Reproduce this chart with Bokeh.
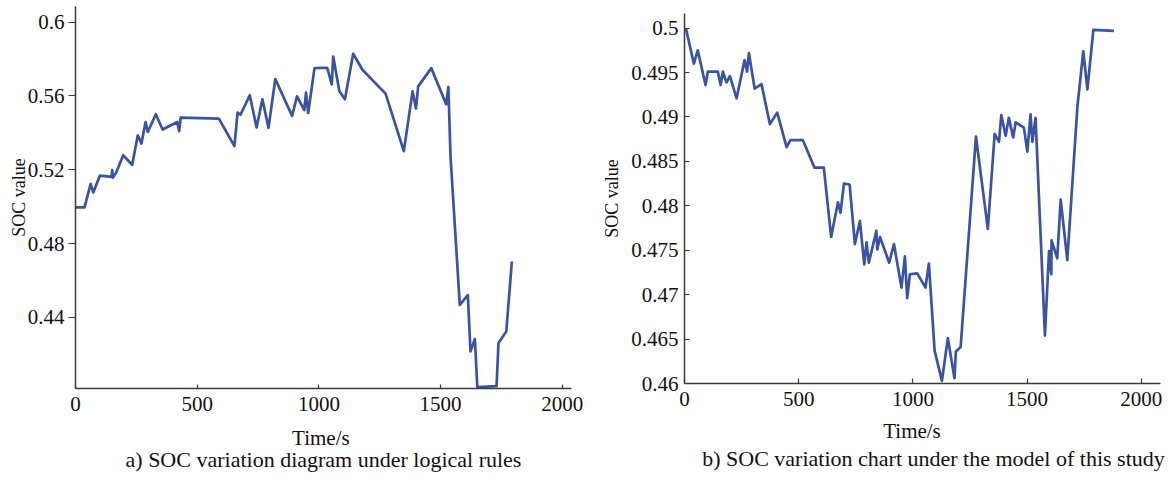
from bokeh.plotting import figure
from bokeh.layouts import row, column
from bokeh.models import Range1d, FixedTicker, LinearAxis
from bokeh.embed import file_html
from bokeh.resources import INLINE

# ---------------- data ----------------
left_time = [2, 37, 62, 73, 100, 148, 151, 153, 167, 196, 233, 256, 271, 288, 297,
             330, 358, 418, 426, 432, 589, 653, 666, 678, 716, 744, 768, 793, 821, 890,
             910, 940, 947, 956, 982, 1034, 1053, 1059, 1084, 1107, 1141, 1179, 1274, 1349, 1385,
             1399, 1408, 1462, 1523, 1532, 1541, 1579, 1612, 1623, 1641, 1651, 1730, 1738, 1770, 1793]
left_soc = [0.4996, 0.4996, 0.5123, 0.5077, 0.5168, 0.5162, 0.5198, 0.5157, 0.5184, 0.5279,
            0.5227, 0.5387, 0.5342, 0.5459, 0.5405, 0.5501, 0.5418, 0.5459, 0.5409, 0.5483,
            0.5477, 0.5328, 0.5510, 0.5499, 0.5604, 0.5429, 0.5582, 0.5427, 0.5692, 0.5492,
            0.5598, 0.5523, 0.5618, 0.5508, 0.5751, 0.5753, 0.5663, 0.5814, 0.5627, 0.5582,
            0.5829, 0.5742, 0.5613, 0.5301, 0.5625, 0.5532, 0.5652, 0.5751, 0.5555, 0.5649,
            0.5270, 0.4468, 0.4521, 0.4216, 0.4283, 0.4022, 0.4027, 0.4261, 0.4323, 0.4703]

right_time = [6, 41, 58, 92, 102, 146, 158, 168, 184, 199, 228, 263, 274, 282, 307,
              337, 374, 406, 447, 464, 518, 569, 610, 642, 672, 683, 698, 723, 746, 768,
              787, 797, 807, 840, 844, 856, 896, 917, 950, 965, 975, 987, 1019, 1055, 1070,
              1095, 1127, 1153, 1182, 1188, 1209, 1276, 1328, 1358, 1377, 1387, 1406, 1420, 1439, 1450,
              1486, 1501, 1515, 1523, 1537, 1578, 1596, 1606, 1607, 1632, 1647, 1676, 1720, 1746, 1764,
              1790, 1880]
right_soc = [0.5000, 0.4960, 0.4975, 0.4936, 0.4951, 0.4951, 0.4936, 0.4951, 0.4939, 0.4946,
             0.4921, 0.4964, 0.4951, 0.4972, 0.4932, 0.4937, 0.4892, 0.4905, 0.4866, 0.4874,
             0.4874, 0.4843, 0.4843, 0.4765, 0.4804, 0.4792, 0.4825, 0.4824, 0.4757, 0.4783,
             0.4734, 0.4759, 0.4736, 0.4772, 0.4751, 0.4765, 0.4736, 0.4757, 0.4708, 0.4743,
             0.4696, 0.4723, 0.4724, 0.4708, 0.4735, 0.4637, 0.4603, 0.4651, 0.4606, 0.4636,
             0.4641, 0.4878, 0.4774, 0.4881, 0.4872, 0.4902, 0.4879, 0.4899, 0.4877, 0.4894,
             0.4888, 0.4861, 0.4903, 0.4872, 0.4899, 0.4654, 0.4749, 0.4723, 0.4761, 0.4741,
             0.4807, 0.4739, 0.4911, 0.4974, 0.4931, 0.4998, 0.4997]

x_ticks = [0, 500, 1000, 1500, 2000]
x_tick_labels = ["0", "500", "1000", "1500", "2000"]
left_y_ticks = [0.44, 0.48, 0.52, 0.56, 0.6]
left_y_tick_labels = ["0.44", "0.48", "0.52", "0.56", "0.6"]
right_y_ticks = [0.46, 0.465, 0.47, 0.475, 0.48, 0.485, 0.49, 0.495, 0.5]
right_y_tick_labels = ["0.46", "0.465", "0.47", "0.475", "0.48", "0.485", "0.49", "0.495", "0.5"]

x_label = "Time/s"
y_label = "SOC value"
caption_a = "a) SOC variation diagram under logical rules"
caption_b = "b) SOC variation chart under the model of this study"

# ---------------- style ----------------
FONT = "Liberation Serif"
LINE_COLOR = "#3a54a5"
AXIS_COLOR = "#3a3a3a"
TXT = "#111111"
NB = "\u00a0"


def base_fig(width, height, xr, yr, borders):
    l, r, t, b = borders
    p = figure(width=width, height=height, x_range=Range1d(*xr), y_range=Range1d(*yr),
               output_backend="svg", toolbar_location=None,
               min_border_left=l, min_border_right=r, min_border_top=t, min_border_bottom=b)
    p.xgrid.visible = False
    p.ygrid.visible = False
    p.outline_line_color = None
    p.background_fill_color = "white"
    p.border_fill_color = "white"
    for ax in (p.xaxis[0], p.yaxis[0]):
        ax.axis_line_color = AXIS_COLOR
        ax.axis_line_width = 1.5
        ax.major_tick_line_color = AXIS_COLOR
        ax.major_tick_line_width = 1.2
        ax.minor_tick_line_color = None
        ax.major_label_text_font = FONT
        ax.major_label_text_font_size = "21px"
        ax.major_label_text_color = TXT
        ax.axis_label_text_font = FONT
        ax.axis_label_text_font_style = "normal"
        ax.axis_label_text_color = TXT
    p.xaxis.ticker = FixedTicker(ticks=x_ticks)
    p.xaxis.major_label_overrides = dict(zip(x_ticks, x_tick_labels))
    p.xaxis.axis_label_text_font_size = "21px"
    p.yaxis.axis_label_text_font_size = "18px"
    return p


def add_caption(p, text, standoff):
    cap = LinearAxis(ticker=FixedTicker(ticks=[]), axis_label=text,
                     axis_line_color=None, major_tick_line_color=None, minor_tick_line_color=None,
                     major_tick_in=0, major_tick_out=0, minor_tick_in=0, minor_tick_out=0,
                     major_label_standoff=0, major_label_text_font_size="0px",
                     axis_label_standoff=standoff, axis_label_text_font=FONT,
                     axis_label_text_font_size="22px", axis_label_text_font_style="normal",
                     axis_label_text_color=TXT)
    p.add_layout(cap, "below")


# ---------------- left chart ----------------
L_YR = (0.40146, 0.6085)
pa = base_fig(584, 477, (0, 2038), L_YR, (75, 13, 6, 89))
pa.line(left_time, left_soc, line_color=LINE_COLOR, line_width=2.7, line_join="round")
pa.yaxis.ticker = FixedTicker(ticks=left_y_ticks)
pa.yaxis.major_label_overrides = dict(zip(left_y_ticks, left_y_tick_labels))
pa.yaxis.major_tick_out = 7
pa.yaxis.major_tick_in = 0
pa.yaxis.major_label_standoff = 4
pa.yaxis.axis_label = y_label
pa.yaxis.axis_label_standoff = -4
pa.xaxis.major_tick_in = 4
pa.xaxis.major_tick_out = 0
pa.xaxis.major_label_standoff = 8
pa.xaxis.axis_label = x_label + NB
pa.xaxis.axis_label_standoff = 12
add_caption(pa, caption_a, -6)

# ---------------- right chart ----------------
R_YR = (0.46, 0.50165)
pb = base_fig(584, 477, (0, 2084), R_YR, (100, 8, 13, 94))
pb.line(right_time, right_soc, line_color=LINE_COLOR, line_width=2.7, line_join="round")
pb.yaxis.ticker = FixedTicker(ticks=right_y_ticks)
pb.yaxis.major_label_overrides = dict(zip(right_y_ticks, right_y_tick_labels))
pb.yaxis.major_tick_out = 0
pb.yaxis.major_tick_in = 5
pb.yaxis.major_label_standoff = 6
pb.yaxis.axis_label = y_label
pb.yaxis.axis_label_standoff = 6
pb.xaxis.major_tick_in = 5
pb.xaxis.major_tick_out = 0
pb.xaxis.major_label_standoff = 8
pb.xaxis.axis_label = x_label + NB * 4
pb.xaxis.axis_label_standoff = 10
add_caption(pb, NB * 4 + caption_b, 0)

layout = row(column(pa), column(pb), spacing=0)
open("out.html", "w").write(file_html(layout, INLINE))
